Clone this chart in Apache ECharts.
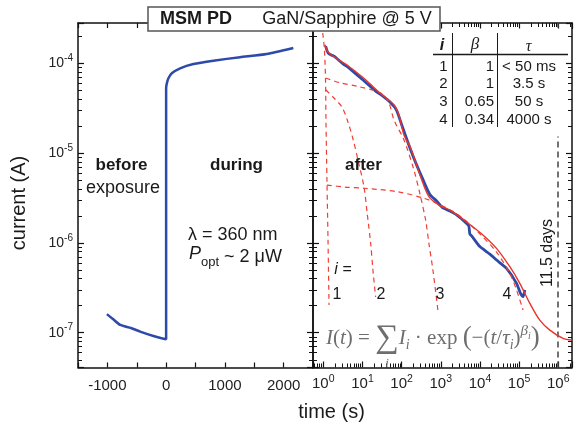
<!DOCTYPE html>
<html><head><meta charset="utf-8">
<script src="https://cdn.jsdelivr.net/npm/echarts@6/dist/echarts.min.js"></script>
<style>html,body{margin:0;padding:0;background:#fff}#c{width:574px;height:430px}</style>
</head><body><div id="c"></div>
<script>
// ---- data ----
const leftTime = [-1008, -900, -782, -600, -442, -216, 0, 0, 12, 39, 97, 238, 464, 804, 1259, 1713, 2165];
const leftCurrent = [1.61e-7, 1.41e-7, 1.22e-7, 1.13e-7, 1.03e-7, 9.2e-8, 8.45e-8, 5.27e-5, 5.98e-5, 6.81e-5, 7.74e-5, 8.8e-5, 9.82e-5, 1.07e-4, 1.17e-4, 1.27e-4, 1.48e-4];

const afterTime = [1.15, 1.26, 1.40, 1.87, 3.24, 4.10, 10.0, 23, 29.1, 51.8, 74.5, 103, 163, 241, 356, 527, 782, 1086, 1707, 2530, 4550, 5210, 5520, 6210, 9940, 17900, 26500, 47700, 85900, 110000, 126000, 140000];
const afterCurrent = [1.55e-4, 1.36e-4, 1.27e-4, 1.20e-4, 9.8e-5, 9.2e-5, 6.6e-5, 4.8e-5, 4.5e-5, 3.66e-5, 3.0e-5, 2.0e-5, 1.14e-5, 7.4e-6, 5.0e-6, 3.46e-6, 2.93e-6, 2.49e-6, 2.26e-6, 2.05e-6, 1.65e-6, 1.54e-6, 1.26e-6, 1.19e-6, 9.1e-7, 7.5e-7, 6.45e-7, 5.2e-7, 3.55e-7, 2.7e-7, 2.52e-7, 3.0e-7];

const fitTime = [1.10, 1.40, 4.10, 10.9, 29.1, 63.7, 85.3, 115, 170, 305, 497, 895, 1707, 4550, 12080, 26500, 57900, 104000, 188000, 337000, 607000, 1.32e6, 2.21e6];
const fitCurrent = [1.61e-4, 1.30e-4, 9.5e-5, 6.8e-5, 4.6e-5, 3.45e-5, 2.65e-5, 1.59e-5, 1.14e-5, 5.46e-6, 3.27e-6, 2.64e-6, 2.32e-6, 1.71e-6, 1.22e-6, 8.7e-7, 5.43e-7, 3.55e-7, 2.12e-7, 1.38e-7, 1.07e-7, 8.67e-8, 8.3e-8];

const comp1Time = [0.90, 0.98, 1.07, 1.14, 1.17, 1.24, 1.32, 1.40];
const comp1Current = [2.74e-4, 2.07e-4, 1.41e-4, 6.5e-5, 2.34e-5, 5.0e-6, 1.08e-6, 2.04e-7];
const comp2Time = [1.15, 1.87, 2.95, 4.10, 5.82, 7.68, 10.9, 13.2, 16.2, 18.5, 21.7];
const comp2Current = [5.08e-5, 4.11e-5, 3.29e-5, 2.34e-5, 1.40e-5, 8.4e-6, 4.23e-6, 2.14e-6, 9.9e-7, 4.99e-7, 2.5e-7];
const comp3Time = [1.15, 2.78, 7.37, 29.1, 47.4, 63.7, 115, 206, 305, 410, 497, 629, 843];
const comp3Current = [6.86e-5, 6.04e-5, 5.55e-5, 4.67e-5, 3.61e-5, 2.34e-5, 1.40e-5, 6.49e-6, 3.27e-6, 1.80e-6, 9.9e-7, 4.99e-7, 1.79e-7];
const comp4Time = [1.24, 3.58, 10.9, 77.2, 371, 988, 3070, 9940, 26500, 57900, 85900, 126000];
const comp4Current = [4.41e-6, 4.19e-6, 4.06e-6, 3.72e-6, 3.14e-6, 2.64e-6, 2.0e-6, 1.26e-6, 7.9e-7, 4.58e-7, 2.99e-7, 1.79e-7];

const markerDays = 11.5;
const leftXLabels = [-1000, 0, 1000, 2000];
const tableI = ['1', '2', '3', '4'];
const tableBeta = ['1', '1', '0.65', '0.34'];
const tableTau = ['< 50 ms', '3.5 s', '50 s', '4000 s'];

// ---- chart ----
const zip = (a, b) => a.map((v, i) => [v, b[i]]);
const FONT = 'Liberation Sans, Arial, sans-serif';
const SERIF = 'Liberation Serif, DejaVu Serif, serif';
const AX = '#111';
const BLUE = '#2d4aa8';
const RED = '#e8352b';
const yMin = 4.1e-8, yMax = 2.81e-4;
const xMinL = -1500, xMaxL = 2500;
const xMinR = 0.546, xMaxR = 2.24e6;

function logLabel(v) {
  const l = Math.log10(v), k = Math.round(l);
  return Math.abs(l - k) < 1e-6 ? '10{sup|' + k + '}' : '';
}
function minorVals(lo, hi) {
  const out = [];
  for (let e = Math.floor(Math.log10(lo)) - 1; e <= Math.ceil(Math.log10(hi)); e++)
    for (let m = 2; m <= 9; m++) { const v = m * Math.pow(10, e); if (v > lo && v < hi) out.push(v); }
  return out;
}
const axLine = {show: true, onZero: false, lineStyle: {color: AX, width: 1.5}};
const tick = (len) => ({show: true, inside: true, length: len, lineStyle: {color: AX, width: 1.2}});
const supRich = (fs) => ({sup: {fontSize: fs, fontFamily: FONT, color: '#222', verticalAlign: 'top', lineHeight: 12}});

const dashed = (data, name) => ({
  name, type: 'line', xAxisIndex: 2, yAxisIndex: 2, data, showSymbol: false, symbol: 'none',
  smooth: 0.3, z: 4, lineStyle: {color: '#ee3f35', width: 1.2, type: [5, 4]}
});

// minor log ticks (2..9 x 10^k): extra tick-only axes running in log10 space of the same ranges
const yMinor = minorVals(yMin, yMax);
const xMinor = minorVals(xMinR, xMaxR);
const minorAxis = (gridIndex, position, lo, hi, vals) => ({
  gridIndex, type: 'value', position, min: Math.log10(lo), max: Math.log10(hi), silent: true,
  axisLine: {show: false, onZero: false}, splitLine: {show: false}, axisLabel: {show: false},
  axisTick: {show: true, inside: true, length: 4, customValues: vals.map(v => Math.log10(v)),
             lineStyle: {color: AX, width: 1}}
});

const option = {
  animation: false,
  backgroundColor: '#fff',
  grid: [
    {left: 78, right: 261, top: 23, bottom: 62.5, containLabel: false, outerBoundsMode: 'none'},
    {left: 313, right: 2, top: 23, bottom: 62.5, containLabel: false, outerBoundsMode: 'none'}
  ],
  xAxis: [
    {gridIndex: 0, type: 'value', min: xMinL, max: xMaxL, interval: 500, position: 'bottom',
     axisLine: axLine, axisTick: tick(5), splitLine: {show: false},
     axisLabel: {formatter: v => leftXLabels.includes(v) ? String(v) : '', fontSize: 15, fontFamily: FONT, color: '#222', margin: 11}},
    {gridIndex: 0, type: 'value', min: xMinL, max: xMaxL, interval: 500, position: 'top',
     axisLine: axLine, axisTick: tick(5), splitLine: {show: false}, axisLabel: {show: false}},
    {gridIndex: 1, type: 'log', logBase: 10, min: xMinR, max: xMaxR, position: 'bottom',
     axisLine: axLine, axisTick: tick(6), splitLine: {show: false}, minorTick: {show: false},
     axisLabel: {formatter: logLabel, rich: supRich(10.5), fontSize: 15, lineHeight: 20, fontFamily: FONT, color: '#222', margin: 6}},
    {gridIndex: 1, type: 'log', logBase: 10, min: xMinR, max: xMaxR, position: 'top',
     axisLine: axLine, axisTick: tick(6), splitLine: {show: false}, axisLabel: {show: false}},
    minorAxis(1, 'bottom', xMinR, xMaxR, xMinor),
    minorAxis(1, 'top', xMinR, xMaxR, xMinor)
  ],
  yAxis: [
    {gridIndex: 0, type: 'log', logBase: 10, min: yMin, max: yMax, position: 'left',
     axisLine: axLine, axisTick: tick(6), splitLine: {show: false},
     axisLabel: {formatter: logLabel, rich: supRich(10), fontSize: 14, lineHeight: 20, fontFamily: FONT, color: '#222', margin: 5}},
    {gridIndex: 0, type: 'log', logBase: 10, min: yMin, max: yMax, position: 'right',
     axisLine: axLine, axisTick: tick(6), splitLine: {show: false}, axisLabel: {show: false}},
    {gridIndex: 1, type: 'log', logBase: 10, min: yMin, max: yMax, position: 'left',
     axisLine: axLine, axisTick: tick(6), splitLine: {show: false}, axisLabel: {show: false}},
    {gridIndex: 1, type: 'log', logBase: 10, min: yMin, max: yMax, position: 'right',
     axisLine: axLine, axisTick: tick(6), splitLine: {show: false}, axisLabel: {show: false}},
    minorAxis(0, 'left', yMin, yMax, yMinor),
    minorAxis(0, 'right', yMin, yMax, yMinor),
    minorAxis(1, 'left', yMin, yMax, yMinor),
    minorAxis(1, 'right', yMin, yMax, yMinor)
  ],
  series: [
    {name: 'before/during', type: 'line', xAxisIndex: 0, yAxisIndex: 0, data: zip(leftTime, leftCurrent),
     showSymbol: false, symbol: 'none', smooth: 0.2, z: 3, lineStyle: {color: BLUE, width: 2.5}},
    {name: 'after', type: 'line', xAxisIndex: 2, yAxisIndex: 2, data: zip(afterTime, afterCurrent),
     showSymbol: false, symbol: 'none', smooth: 0.2, z: 3, lineStyle: {color: BLUE, width: 2.8},
     markLine: {silent: true, symbol: 'none', label: {show: false},
       lineStyle: {color: '#444', width: 1.5, type: [6, 4]},
       data: [{xAxis: markerDays * 86400}]}},
    {name: 'fit', type: 'line', xAxisIndex: 2, yAxisIndex: 2, data: zip(fitTime, fitCurrent),
     showSymbol: false, symbol: 'none', smooth: 0.3, z: 5, lineStyle: {color: RED, width: 1.4}},
    dashed(zip(comp1Time, comp1Current), 'i=1'),
    dashed(zip(comp2Time, comp2Current), 'i=2'),
    dashed(zip(comp3Time, comp3Current), 'i=3'),
    dashed(zip(comp4Time, comp4Current), 'i=4')
  ],
  graphic: []
};

const txt = (text, x, y, o) => ({type: 'text', z: 100, x, y, style: Object.assign({text, fill: '#1a1a1a', font: '17px ' + FONT, align: 'center', verticalAlign: 'middle'}, o || {})});
const ln = (x1, y1, x2, y2, w) => ({type: 'line', z: 101, shape: {x1, y1, x2, y2}, style: {stroke: '#1a1a1a', lineWidth: w}});
const g = [];
// title box
g.push({type: 'rect', z: 100, shape: {x: 148, y: 7, width: 292, height: 24}, style: {fill: '#fff', stroke: '#555', lineWidth: 1.5}});
g.push(txt('MSM PD', 196, 19.5, {font: 'bold 18px ' + FONT}));
g.push(txt('GaN/Sapphire @ 5 V', 347, 19.5, {font: '18px ' + FONT}));
// annotations
g.push(txt('before', 121.5, 165, {font: 'bold 17px ' + FONT}));
g.push(txt('exposure', 123, 188, {font: '18px ' + FONT}));
g.push(txt('during', 236.5, 165, {font: 'bold 17px ' + FONT}));
g.push(txt('λ = 360 nm', 188, 235, {font: '18px ' + FONT, align: 'left'}));
g.push({type: 'text', z: 100, x: 189, y: 257, style: {text: '{p|P}{s|opt} ~ 2 μW', font: '18px ' + FONT, fill: '#1a1a1a', align: 'left', verticalAlign: 'middle',
  rich: {p: {font: 'italic 18px ' + FONT, lineHeight: 24, verticalAlign: 'top'}, s: {font: '13px ' + FONT, lineHeight: 14, verticalAlign: 'bottom'}}}});
g.push(txt('after', 363.5, 165, {font: 'bold 17px ' + FONT}));
g.push(txt('i =', 343, 270, {font: 'italic 16px ' + FONT}));
g.push(txt('1', 337, 295, {font: '16px ' + FONT}));
g.push(txt('2', 381, 295, {font: '16px ' + FONT}));
g.push(txt('3', 440, 295, {font: '16px ' + FONT}));
g.push(txt('4', 507, 295, {font: '16px ' + FONT}));
g.push({type: 'text', z: 100, x: 548, y: 253, rotation: Math.PI / 2,
  style: {text: markerDays + ' days', font: '16px ' + FONT, fill: '#1a1a1a', align: 'center', verticalAlign: 'middle'}});
// formula
const fc = '#6e6e6e';
g.push({type: 'text', z: 100, x: 326, y: 338, style: {
  text: '{it|I}{n|(}{it|t}{n|) = }{sig|∑}{it|I}{sub|i}{n| · exp }{big|(}{n|−(}{it|t}{n|/}{it|τ}{sub|i}{n|)}{sup|β}{ssub|i}{big|)}',
  fill: fc, align: 'left', verticalAlign: 'middle', font: '21px ' + SERIF,
  rich: {
    it: {font: 'italic 21px ' + SERIF, fill: fc, lineHeight: 28},
    n: {font: '21px ' + SERIF, fill: fc, lineHeight: 28},
    sig: {font: '33px ' + SERIF, fill: fc, lineHeight: 28},
    big: {font: '27px ' + SERIF, fill: fc, lineHeight: 28},
    sub: {font: 'italic 14px ' + SERIF, fill: fc, lineHeight: 15, verticalAlign: 'bottom'},
    sup: {font: 'italic 15px ' + SERIF, fill: fc, lineHeight: 15, verticalAlign: 'top'},
    ssub: {font: 'italic 10px ' + SERIF, fill: fc, lineHeight: 10, verticalAlign: 'top', padding: [7, 0, 0, 0]}
  }}});
g.push(txt('i', 387, 364, {font: 'italic 13px ' + SERIF, fill: fc}));
// table
g.push({type: 'rect', z: 99, shape: {x: 432, y: 28.5, width: 134, height: 108}, style: {fill: '#fff'}});
g.push(ln(433, 54.5, 568, 54.5, 1.6));
g.push(ln(452.5, 33, 452.5, 127, 1));
g.push(ln(497.5, 33, 497.5, 127, 1));
g.push(txt('i', 442, 46, {font: 'bold italic 16px ' + FONT}));
g.push(txt('β', 475, 44.5, {font: 'italic 17px ' + SERIF}));
g.push(txt('τ', 528.5, 46.5, {font: 'italic 16px ' + SERIF}));
const rowY = [66.7, 84, 101.5, 119.5];
tableI.forEach((s, i) => {
  g.push(txt(s, 443.5, rowY[i], {font: '15px ' + FONT}));
  g.push(txt(tableBeta[i], 494, rowY[i], {font: '15px ' + FONT, align: 'right'}));
  g.push(txt(tableTau[i], 529, rowY[i], {font: '15px ' + FONT}));
});
// axis names
g.push({type: 'text', z: 100, x: 19, y: 203, rotation: Math.PI / 2,
  style: {text: 'current (A)', font: '20px ' + FONT, fill: '#1a1a1a', align: 'center', verticalAlign: 'middle'}});
g.push(txt('time (s)', 331.5, 412, {font: '20px ' + FONT}));
option.graphic = g;

const chart = echarts.init(document.getElementById('c'), null, {renderer: 'canvas', width: 574, height: 430});
chart.setOption(option);
</script>
</body></html>
